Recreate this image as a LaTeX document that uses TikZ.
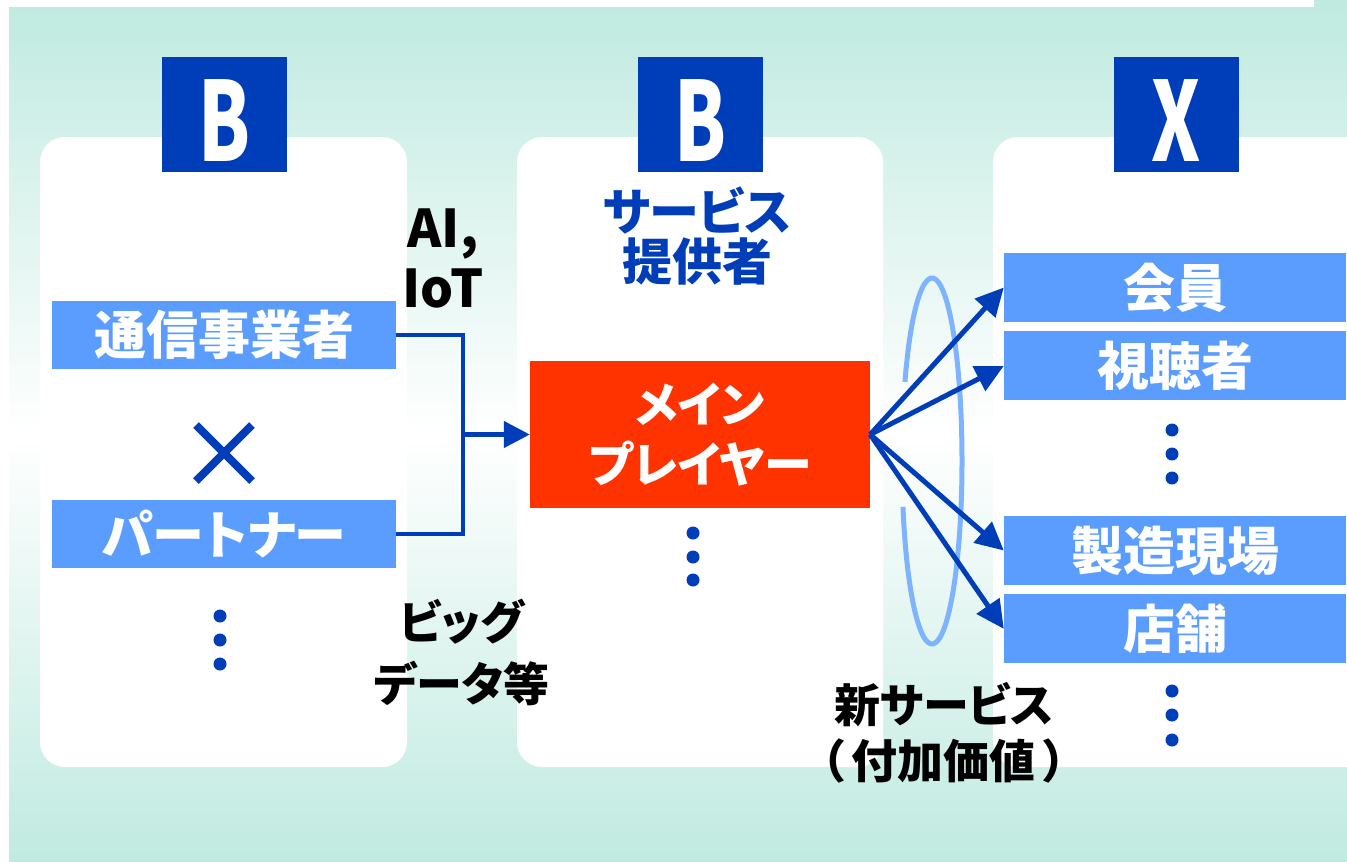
\documentclass[tikz,border=0pt]{standalone}
\usepackage{fontspec}
\newfontfamily\jp{Noto Sans CJK JP}[RawFeature={+palt}]
\usepackage{tikz}
\usetikzlibrary{arrows.meta}
\usetikzlibrary{positioning}
\definecolor{hdblue}{RGB}{0,61,185}
\definecolor{boxblue}{RGB}{91,157,255}
\definecolor{mainred}{RGB}{255,51,0}
\definecolor{ringblue}{RGB}{126,179,255}
\definecolor{mint}{RGB}{192,234,224}
\tikzstyle{panel} = [fill=white, rounded corners=25pt]
\tikzstyle{head} = [fill=hdblue, minimum width=125pt, minimum height=115pt, inner sep=0pt]
\tikzstyle{headtxt} = [text=white, anchor=base, inner sep=0pt, font=\jp\bfseries\fontsize{110}{110}\selectfont]
\tikzstyle{lbox} = [fill=boxblue, text=white, minimum width=344pt, minimum height=68pt, inner sep=0pt, font=\jp\bfseries\fontsize{52}{56}\selectfont]
\tikzstyle{rbox} = [lbox, minimum width=342pt, minimum height=69pt]
\tikzstyle{note} = [align=center, inner sep=0pt, font=\jp\bfseries\fontsize{46}{62}\selectfont]
\tikzstyle{dot} = [circle, fill=hdblue, inner sep=0pt, minimum size=13pt]
\tikzstyle{line} = [draw=hdblue, line width=4.5pt]
\tikzstyle{arrow} = [line, -{Triangle[length=26pt,width=26pt]}]
\tikzstyle{fan} = [draw=hdblue, line width=5pt, -{Triangle[length=28pt,width=27pt]}]

\begin{document}
\begin{tikzpicture}[x=1pt, y=-1pt]
  \useasboundingbox (0,0) rectangle (1347,862);
  \clip (0,0) rectangle (1347,862);
  % background
  \shade[top color=mint, bottom color=mint, middle color=white] (9,7) rectangle (1347,862);
  \fill[mint] (1314,0) rectangle (1347,8);
  \fill[panel] (40,137) rectangle (407,767);
  \fill[panel] (517,137) rectangle (883,767);
  \fill[panel] (993,137) rectangle (1390,767);

  % headers
  \node (hdL) [head] at (224.5,114.5) {};
  \node (hdM) [head] at (700,114.5) {};
  \node (hdR) [head] at (1176,114.5) {};
  \node (hdLt) [headtxt] at (224.5,161) {\scalebox{0.68}[1]{B}};
  \node (hdMt) [headtxt] at (700,161) {\scalebox{0.68}[1]{B}};
  \node (hdRt) [headtxt] at (1176,161) {\scalebox{0.68}[1]{X}};

  % left column
  \node (tsushin) [lbox] at (224,335) {通信事業者};
  \node (partner) [lbox] at (224,534) {パートナー};
  \draw[hdblue, line width=8pt] (196,425) -- (252,481) (252,425) -- (196,481);
  \node (dL1) [dot] at (220,616) {};
  \node (dL2) [dot] at (220,640) {};
  \node (dL3) [dot] at (220,664) {};

  % middle column
  \node (teikyo) [note, text=hdblue, font=\jp\bfseries\fontsize{50}{50}\selectfont] at (697,236) {サービス\\提供者};
  \node (main) [fill=mainred, text=white, minimum width=340pt, minimum height=147pt, align=center,
    font=\jp\bfseries\fontsize{48}{60}\selectfont] at (700,434.5) {メイン\\プレイヤー};
  \node (dM1) [dot] at (693,533) {};
  \node (dM2) [dot] at (693,557) {};
  \node (dM3) [dot] at (693,580) {};

  % labels between columns
  \node (aiot) [note, font=\jp\bfseries\fontsize{52}{60}\selectfont] at (443,258) {AI,\\IoT};
  \node (bigdata) [note] at (462,652) {ビッグ\\データ等};
  \node (shin) [note, font=\jp\bfseries\fontsize{46}{56}\selectfont] at (944,733)
    {新サービス\\（\kern8pt 付加価値\kern8pt ）};

  % right column
  \node (kaiin) [rbox] at (1175,287.5) {会員};
  \node (shichou) [rbox, below=9pt of kaiin] {視聴者};
  \node (dR1) [dot] at (1172,430) {};
  \node (dR2) [dot] at (1172,454) {};
  \node (dR3) [dot] at (1172,478) {};
  \node (seizo) [rbox] at (1175,550.5) {製造現場};
  \node (tenpo) [rbox, below=9pt of seizo] {店舗};
  \node (dR4) [dot] at (1172,691) {};
  \node (dR5) [dot] at (1172,715) {};
  \node (dR6) [dot] at (1172,740) {};

  % connectors
  \coordinate (jn) at (463,434.5);
  \draw[line] (tsushin.east) -| (jn) |- (partner.east);
  \draw[arrow] (jn) -- (main.west);
  \draw[ringblue, line width=5pt] (932,461) ++(205.6:30 and 183)
    arc[start angle=205.6, end angle=525.5, x radius=30, y radius=183];
  \foreach \t in {kaiin, shichou, seizo, tenpo}
    \draw[fan] (main.east) -- (\t.west);
\end{tikzpicture}
\end{document}
